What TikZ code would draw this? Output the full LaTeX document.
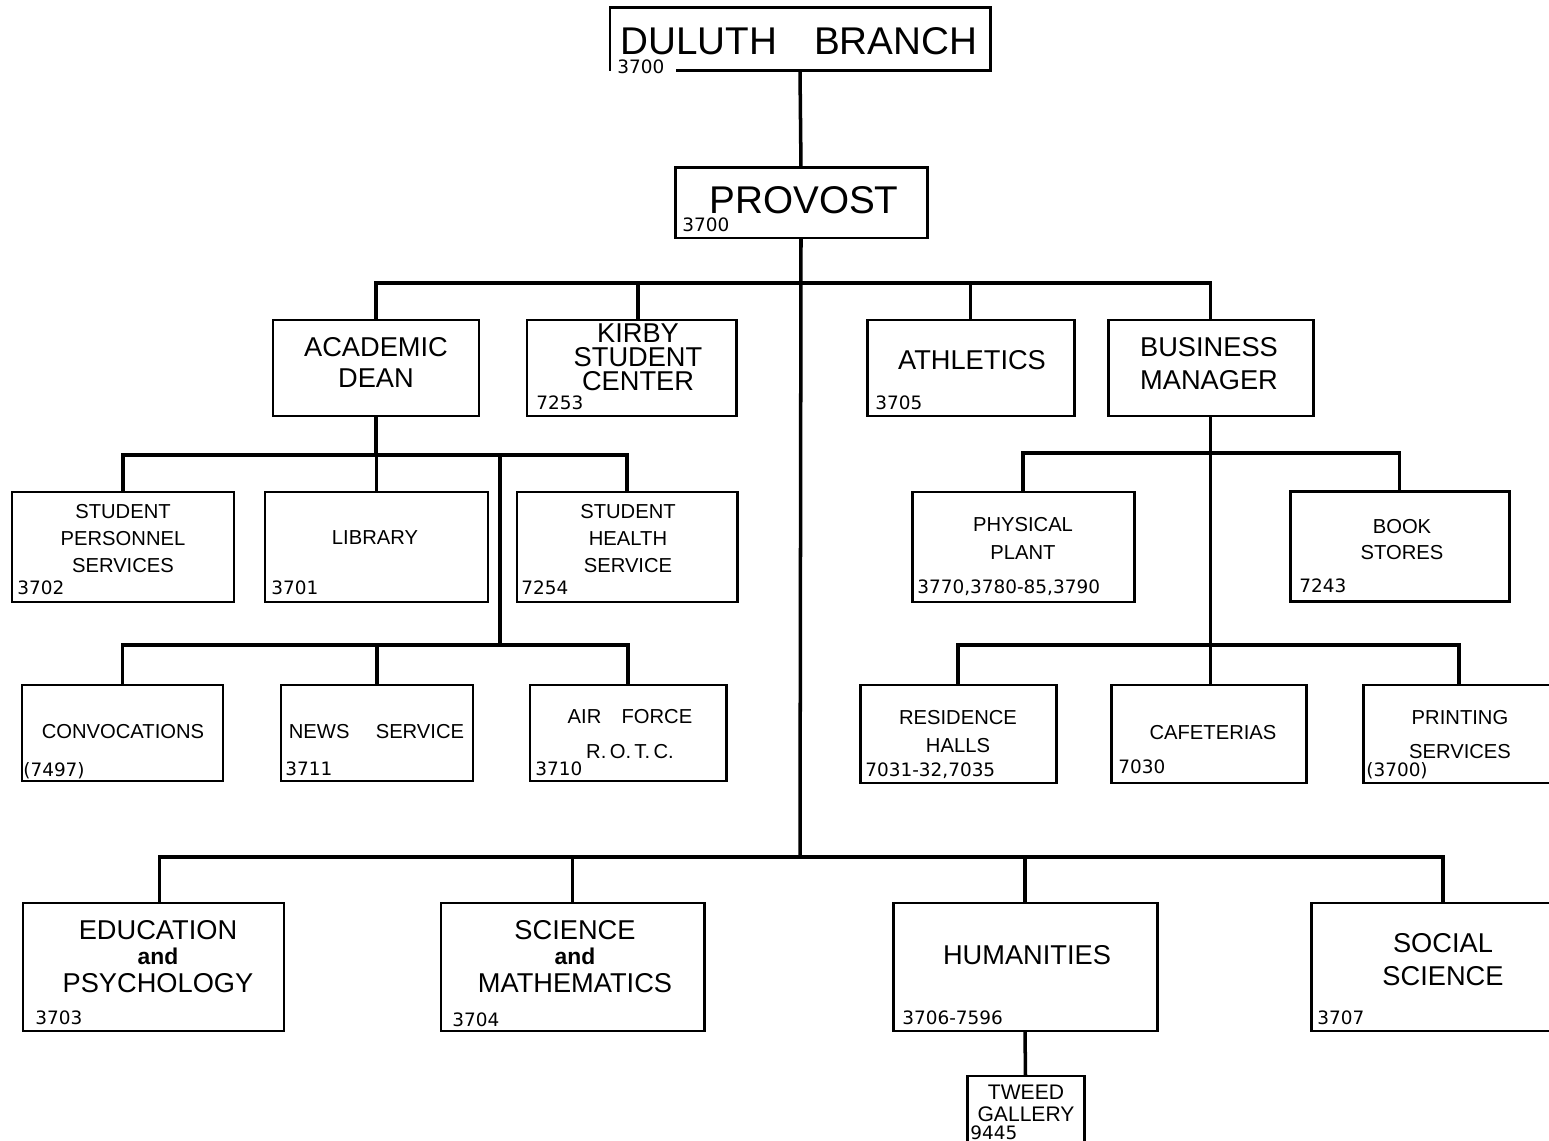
\documentclass[tikz,border=0pt]{standalone}
\usepackage{fontspec}
\setmainfont{Liberation Sans}
\newfontfamily\numfont{DejaVu Sans}
\usetikzlibrary{calc}
\begin{document}
\begin{tikzpicture}[x=0.02cm,y=-0.02cm,
  box/.style 2 args={draw, line width=1.7pt, minimum width=#1*0.02cm, minimum height=#2*0.02cm, inner sep=0pt, outer sep=0pt},
  plainbox/.style 2 args={minimum width=#1*0.02cm, minimum height=#2*0.02cm, inner sep=0pt, outer sep=0pt},
  conn/.style={line width=2pt},
  num/.style={font=\numfont\fontsize{10.5}{12}\selectfont, anchor=base west, inner sep=0pt},
  bigtxt/.style={font=\fontsize{22}{24}\selectfont, inner sep=0pt},
  midtxt/.style={font=\fontsize{15.5}{#1}\selectfont, inner sep=0pt, align=center},
  midtxt/.default=18,
  smalltxt/.style={font=\fontsize{11.5}{#1}\selectfont, inner sep=0pt, align=center},
  smalltxt/.default=15,
  andtxt/.style={font=\bfseries\fontsize{13}{14}\selectfont, inner sep=0pt}
]
\fill[white] (0,0) rectangle (1549,1141);
\useasboundingbox (0,0) rectangle (1549,1141);

% ---------- boxes ----------
\node[plainbox={380}{63}] (dul) at (800,39.5) {};
\draw[line width=1.7pt] ($(dul.south west)+(66,0)$) -- (dul.south east) -- (dul.north east) -- (dul.north west) -- (dul.south west);
\node[box={252}{70}] (prov) at (801,203) {};

\node[box={206}{96}] (acad) at (376,368) {};
\node[box={209}{96}] (kirby) at (631.5,368) {};
\node[box={207}{96}] (ath) at (970.5,368) {};
\node[box={205}{96}] (bm) at (1210.5,368) {};

\node[box={222}{110}] (sps) at (123,547) {};
\node[box={223}{110}] (lib) at (376.5,547) {};
\node[box={220}{110}] (shs) at (627,547) {};
\node[box={222}{110}] (pp) at (1023,547) {};
\node[box={219}{110}] (bs) at (1399.5,546.5) {};

\node[box={201}{96}] (conv) at (122.5,733) {};
\node[box={192}{96}] (news) at (377,733) {};
\node[box={196}{96}] (afr) at (628,733) {};
\node[box={196}{98}] (rh) at (958,734) {};
\node[box={195}{98}] (caf) at (1208.5,734) {};
\node[box={192}{98}] (ps) at (1459,734) {};

\node[box={261}{128}] (edu) at (153.5,967) {};
\node[box={263}{128}] (sci) at (572.5,967) {};
\node[box={264}{128}] (hum) at (1025,967) {};
\node[box={264}{128}] (soc) at (1443,967) {};
\node[box={117}{70}] (tweed) at (1025.5,1111) {};

% ---------- connectors ----------
\coordinate (t1) at (800,283);
\coordinate (c1) at (800,857);
\coordinate (a1) at (376,455);
\coordinate (a2) at (500,455);
\coordinate (a3) at (500,645);
\coordinate (b1) at (1211,453);
\coordinate (b2) at (1211,645);

\draw[conn] (dul.south) -- (prov.north);
\draw[conn] (prov.south) -- (c1);
\draw[conn] (acad.north) |- (t1) -| (bm.north);
\draw[conn] (kirby.north -| 638,0) -- (638,283);
\draw[conn] (ath.north) -- (ath.north |- t1);

\draw[conn] (acad.south) -- (a1);
\draw[conn] (sps.north) |- (a1) -| (shs.north);
\draw[conn] (lib.north) -- (lib.north |- a1);
\draw[conn] (a2) -- (a3);
\draw[conn] (conv.north) |- (a3) -| (afr.north);
\draw[conn] (news.north) -- (news.north |- a3);

\draw[conn] (bm.south) -- (bm.south |- caf.north);
\draw[conn] (pp.north) |- (b1) -| (bs.north);
\draw[conn] (rh.north) |- (b2) -| (ps.north);

\draw[conn] ($(edu.north)+(6,0)$) |- (c1) -| (soc.north);
\draw[conn] (sci.north) -- (sci.north |- c1);
\draw[conn] (hum.north) -- (hum.north |- c1);
\draw[conn] (hum.south) -- (tweed.north);

% ---------- texts ----------
\node[bigtxt] (dult) at (799,41) {DULUTH\hspace{0.95em}BRANCH};
\node[num] (duln) at (617,74) {3700};
\node[bigtxt] (provt) at (804,200) {PROVOST};
\node[num] (provn) at (682,232) {3700};

\node[midtxt=17.6] (acadt) at (376,362.5) {ACADEMIC\\DEAN};
\node[midtxt=13.6] (kirbyt) at (638,357) {KIRBY\\STUDENT\\CENTER};
\node[num] (kirbyn) at (536,410) {7253};
\node[midtxt] (atht) at (972,360) {ATHLETICS};
\node[num] (athn) at (875,410) {3705};
\node[midtxt=18.7] (bmt) at (1209,363.5) {BUSINESS\\MANAGER};

\node[smalltxt=15.6] (spst) at (123,538.5) {STUDENT\\PERSONNEL\\SERVICES};
\node[num] (spsn) at (17,595) {3702};
\node[smalltxt] (libt) at (375,538) {LIBRARY};
\node[num] (libn) at (271,595) {3701};
\node[smalltxt=15.6] (shst) at (628,538.5) {STUDENT\\HEALTH\\SERVICE};
\node[num] (shsn) at (521,595) {7254};
\node[smalltxt=15.9] (ppt) at (1023,538) {PHYSICAL\\PLANT};
\node[num] (ppn) at (917,594) {3770,3780-85,3790};
\node[smalltxt=15.3] (bst) at (1402,539.5) {BOOK\\STORES};
\node[num] (bsn) at (1299,593) {7243};

\node[smalltxt] (convt) at (123,732) {CONVOCATIONS};
\node[num] (convn) at (23,777) {(7497)};
\node[smalltxt] (newst) at (376.5,732) {NEWS\hspace{1.3em}SERVICE};
\node[num] (newsn) at (285,776) {3711};
\node[smalltxt=20.4] (afrt) at (630,734) {AIR\hspace{1em}FORCE\\R.\,O.\,T.\,C.};
\node[num] (afrn) at (535,776) {3710};
\node[smalltxt=16.4] (rht) at (958,731.5) {RESIDENCE\\HALLS};
\node[num] (rhn) at (865,777) {7031-32,7035};
\node[smalltxt] (caft) at (1213,733) {CAFETERIAS};
\node[num] (cafn) at (1118,774) {7030};
\node[smalltxt=19.8] (pst) at (1460,734.5) {PRINTING\\SERVICES};
\node[num] (psn) at (1366,777) {(3700)};

\node[midtxt] (edut1) at (158,930) {EDUCATION};
\node[andtxt] (edut2) at (158,956) {and};
\node[midtxt] (edut3) at (158,983) {PSYCHOLOGY};
\node[num] (edun) at (35,1024) {3703};
\node[midtxt] (scit1) at (575,930) {SCIENCE};
\node[andtxt] (scit2) at (575,956) {and};
\node[midtxt] (scit3) at (575,983) {MATHEMATICS};
\node[num] (scin) at (452,1026) {3704};
\node[midtxt] (humt) at (1027,955) {HUMANITIES};
\node[num] (humn) at (902,1024) {3706-7596};
\node[midtxt=18.7] (soct) at (1443,959.5) {SOCIAL\\SCIENCE};
\node[num] (socn) at (1317,1024) {3707};
\node[font=\fontsize{12}{12.5}\selectfont, inner sep=0pt, align=center] (tweedt) at (1026,1103) {TWEED\\GALLERY};
\node[num] (tweedn) at (970,1139) {9445};
\end{tikzpicture}
\end{document}
